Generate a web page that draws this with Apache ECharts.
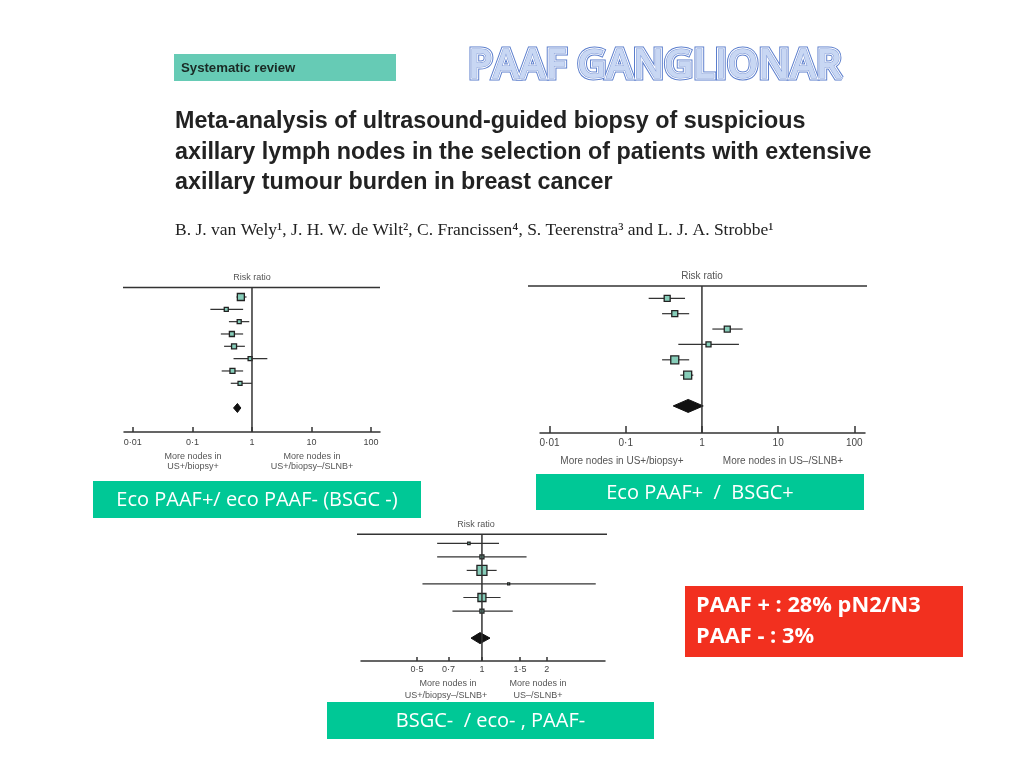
<!DOCTYPE html>
<html>
<head>
<meta charset="utf-8">
<script src="https://cdn.jsdelivr.net/npm/echarts@6/dist/echarts.min.js"></script>
<style>
  html, body { margin: 0; padding: 0; background: #fff; }
  #main { width: 1024px; height: 768px; }
</style>
</head>
<body>
<div id="main"></div>
<script>
// forest plot 1: Eco PAAF+ / eco PAAF- (BSGC -)
const p1Est = [0.65, 0.37, 0.61, 0.46, 0.50, 0.93, 0.47, 0.63]
const p1Lo = [0.55, 0.20, 0.41, 0.30, 0.34, 0.49, 0.31, 0.44]
const p1Hi = [0.81, 0.71, 0.90, 0.71, 0.76, 1.81, 0.71, 1.00]
const p1Weight = [3.5, 2, 2, 2.5, 2.5, 2, 2.5, 2]
const p1Pooled = [0.57, 0.49, 0.65]
const p1Ticks = [0.01, 0.1, 1, 10, 100]

// forest plot 2: Eco PAAF+ / BSGC+
const p2Est = [0.35, 0.44, 2.15, 1.22, 0.44, 0.65]
const p2Lo = [0.20, 0.30, 1.37, 0.49, 0.30, 0.52]
const p2Hi = [0.60, 0.68, 3.42, 3.06, 0.68, 0.77]
const p2Weight = [3, 3, 3, 2.5, 4, 4]
const p2Pooled = [0.66, 0.42, 1.04]
const p2Ticks = [0.01, 0.1, 1, 10, 100]

// forest plot 3: BSGC- / eco- , PAAF-
const p3Est = [0.87, 1.00, 1.00, 1.33, 1.00, 1.00]
const p3Lo = [0.62, 0.62, 0.85, 0.53, 0.82, 0.73]
const p3Hi = [1.20, 1.61, 1.17, 3.37, 1.22, 1.39]
const p3Weight = [1.2, 2, 5, 1, 4, 2]
const p3Pooled = [0.98, 0.89, 1.09]
const p3Ticks = [0.5, 0.7, 1, 1.5, 2]

const chart = echarts.init(document.getElementById('main'))

function rows (est, lo, hi, w) {
  return est.map((e, i) => [e, lo[i], hi[i], i + 1, w[i]])
}

function renderRow (params, api) {
  const p = api.coord([api.value(0), api.value(3)])
  const l = api.coord([api.value(1), api.value(3)])
  const h = api.coord([api.value(2), api.value(3)])
  const s = api.value(4)
  return {
    type: 'group',
    children: [
      { type: 'line', shape: { x1: l[0], y1: l[1], x2: h[0], y2: h[1] }, style: { stroke: '#333', lineWidth: 1.2 } },
      { type: 'rect', shape: { x: p[0] - s, y: p[1] - s, width: 2 * s, height: 2 * s }, style: { fill: '#86cdb9', stroke: '#222', lineWidth: 1.3 } }
    ]
  }
}

function renderDiamond (params, api) {
  const c = api.coord([api.value(0), api.value(3)])
  const l = api.coord([api.value(1), api.value(3)])
  const h = api.coord([api.value(2), api.value(3)])
  const hh = api.value(4)
  return {
    type: 'polygon',
    shape: { points: [[l[0], c[1]], [c[0], c[1] - hh], [h[0], c[1]], [c[0], c[1] + hh]] },
    style: { fill: '#111', stroke: '#111', lineWidth: 1 }
  }
}

function xAxisCfg (idx, min, max, ticks, tickLen, fontSize, margin) {
  return {
    type: 'log',
    logBase: 10,
    gridIndex: idx,
    min: min,
    max: max,
    axisLine: { show: true, onZero: false, lineStyle: { color: '#333', width: 1.5 } },
    axisTick: { show: true, inside: true, length: tickLen, customValues: ticks, lineStyle: { color: '#333', width: 1.5 } },
    axisLabel: {
      customValues: ticks,
      fontSize: fontSize,
      color: '#444',
      margin: margin,
      fontFamily: 'Liberation Sans',
      formatter: v => String(+v.toFixed(3)).replace('.', '·')
    },
    splitLine: { show: false },
    minorTick: { show: false },
    minorSplitLine: { show: false }
  }
}

function yAxisCfg (idx, min, max) {
  return { type: 'value', gridIndex: idx, inverse: true, min: min, max: max, show: false }
}

function plotSeries (idx, data, pooled, pooledRow, pooledH, yMin, yMax) {
  return [
    {
      type: 'line',
      xAxisIndex: idx,
      yAxisIndex: idx,
      data: [[1, yMin], [1, yMax]],
      symbol: 'none',
      silent: true,
      lineStyle: { color: '#333', width: 1.5 }
    },
    {
      type: 'custom',
      xAxisIndex: idx,
      yAxisIndex: idx,
      renderItem: renderRow,
      encode: { x: [0, 1, 2], y: 3 },
      data: data,
      silent: true
    },
    {
      type: 'custom',
      xAxisIndex: idx,
      yAxisIndex: idx,
      renderItem: renderDiamond,
      encode: { x: [0, 1, 2], y: 3 },
      data: [[pooled[0], pooled[1], pooled[2], pooledRow, pooledH]],
      silent: true
    }
  ]
}

const smallText = (x, y, text, size) => ({
  type: 'text', x: x, y: y,
  style: { text: text, fill: '#555', font: (size || 9) + 'px "Liberation Sans"', textAlign: 'center', textVerticalAlign: 'middle' }
})
const rule = (x1, x2, y) => ({ type: 'line', shape: { x1: x1, y1: y, x2: x2, y2: y }, style: { stroke: '#333', lineWidth: 1.5 } })
const greenBox = (x, y, w, h, text) => ({
  type: 'group',
  children: [
    { type: 'rect', shape: { x: x, y: y, width: w, height: h }, style: { fill: '#00c896' } },
    { type: 'text', x: x + w / 2, y: y + h / 2 + 1, style: { text: text, fill: '#fff', font: '20px "Open Sans"', textAlign: 'center', textVerticalAlign: 'middle' } }
  ]
})
const banner = (stroke, lw, fill) => ({
  type: 'text', x: 655, y: 67,
  style: { text: 'PAAF GANGLIONAR', fill: fill, stroke: stroke, lineWidth: lw, font: '600 40px "Open Sans"', textAlign: 'center', textVerticalAlign: 'middle' }
})

const option = {
  backgroundColor: '#fff',
  animation: false,
  grid: [
    { left: 124, top: 287, width: 256, height: 145 },
    { left: 540, top: 286, width: 325, height: 147 },
    { left: 361, top: 534, width: 244, height: 127 }
  ],
  xAxis: [
    xAxisCfg(0, 0.0071, 141, p1Ticks, 5, 9, 6),
    xAxisCfg(1, 0.0075, 138, p2Ticks, 7, 10, 5),
    xAxisCfg(2, 0.275, 3.72, p3Ticks, 4, 9, 4)
  ],
  yAxis: [
    yAxisCfg(0, 0.19, 11.95),
    yAxisCfg(1, 0.2, 9.76),
    yAxisCfg(2, 0.31, 9.69)
  ],
  series: [].concat(
    plotSeries(0, rows(p1Est, p1Lo, p1Hi, p1Weight), p1Pooled, 10, 4.5, 0.19, 11.95),
    plotSeries(1, rows(p2Est, p2Lo, p2Hi, p2Weight), p2Pooled, 8, 6.5, 0.2, 9.76),
    plotSeries(2, rows(p3Est, p3Lo, p3Hi, p3Weight), p3Pooled, 8, 5.5, 0.31, 9.69)
  ),
  graphic: [
    // header
    { type: 'rect', shape: { x: 174, y: 54, width: 222, height: 27 }, style: { fill: '#66cbb5' } },
    { type: 'text', x: 181, y: 68, style: { text: 'Systematic review', fill: '#1a2a25', font: 'bold 13.2px "Liberation Sans"', textVerticalAlign: 'middle' } },
    banner('#5a7dcc', 5, '#5a7dcc'),
    banner('#ffffff', 3, '#ffffff'),
    banner('#7d98d8', 1, '#c8d7f3'),
    { type: 'text', x: 175, y: 122, style: { text: 'Meta-analysis of ultrasound-guided biopsy of suspicious', fill: '#222', font: 'bold 23.3px "Liberation Sans"', textVerticalAlign: 'middle' } },
    { type: 'text', x: 175, y: 153, style: { text: 'axillary lymph nodes in the selection of patients with extensive', fill: '#222', font: 'bold 23.3px "Liberation Sans"', textVerticalAlign: 'middle' } },
    { type: 'text', x: 175, y: 183, style: { text: 'axillary tumour burden in breast cancer', fill: '#222', font: 'bold 23.3px "Liberation Sans"', textVerticalAlign: 'middle' } },
    { type: 'text', x: 175, y: 230, style: { text: 'B. J. van Wely¹, J. H. W. de Wilt², C. Francissen⁴, S. Teerenstra³ and L. J. A. Strobbe¹', fill: '#222', font: '17.5px "Liberation Serif"', textVerticalAlign: 'middle' } },
    // plot 1 text
    rule(123, 380, 287.5),
    smallText(252, 278, 'Risk ratio'),
    smallText(193, 457, 'More nodes in'),
    smallText(193, 467, 'US+/biopsy+'),
    smallText(312, 457, 'More nodes in'),
    smallText(312, 467, 'US+/biopsy–/SLNB+'),
    // plot 2 text
    rule(528, 867, 286),
    smallText(702, 276, 'Risk ratio', 10),
    smallText(622, 461.5, 'More nodes in US+/biopsy+', 10),
    smallText(783, 461.5, 'More nodes in US–/SLNB+', 10),
    // plot 3 text
    rule(357, 607, 534.3),
    smallText(476, 525, 'Risk ratio'),
    smallText(448, 684, 'More nodes in'),
    smallText(446, 696, 'US+/biopsy–/SLNB+'),
    smallText(538, 684, 'More nodes in'),
    smallText(538, 696, 'US–/SLNB+'),
    // captions
    greenBox(93, 481, 328, 37, 'Eco PAAF+/ eco PAAF- (BSGC -)'),
    greenBox(536, 474, 328, 36, 'Eco PAAF+  /  BSGC+'),
    greenBox(327, 702, 327, 37, 'BSGC-  / eco- , PAAF-'),
    { type: 'rect', shape: { x: 685, y: 586, width: 278, height: 71 }, style: { fill: '#f2301f' } },
    { type: 'text', x: 696, y: 606, style: { text: 'PAAF + : 28% pN2/N3', fill: '#fff', font: 'bold 21.8px "Open Sans"', textVerticalAlign: 'middle' } },
    { type: 'text', x: 696, y: 637, style: { text: 'PAAF - : 3%', fill: '#fff', font: 'bold 21.8px "Open Sans"', textVerticalAlign: 'middle' } }
  ]
}

chart.setOption(option)
</script>
</body>
</html>
